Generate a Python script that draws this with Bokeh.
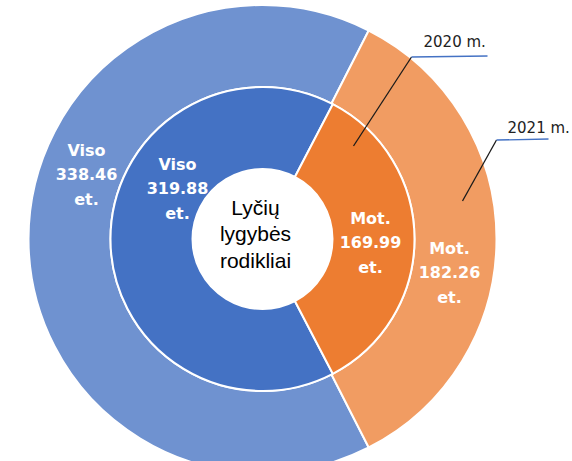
import numpy as np
from bokeh.plotting import figure
from bokeh.models import Range1d, ColumnDataSource
from bokeh.embed import file_html
from bokeh.resources import INLINE
from bokeh.core.properties import value

# ---- data ----
categories = ["Viso", "Mot."]
values_2020 = [319.88, 169.99]   # inner ring
values_2021 = [338.46, 182.26]   # outer ring
years = ["2020 m.", "2021 m."]
unit = "et."
center_title = "Lyčių\nlygybės\nrodikliai"

# ---- styles / layout ----
inner_colors = ["#4472C4", "#ED7D31"]
outer_colors = ["#6F92D0", "#F19C62"]
R_HOLE, R_MID, R_OUT = 70, 152, 234

p = figure(width=572, height=461, x_range=Range1d(-262, 310), y_range=Range1d(-222.5, 238.5),
           output_backend="svg", toolbar_location=None, min_border=0,
           x_axis_type=None, y_axis_type=None)
p.grid.visible = False
p.outline_line_color = None
p.background_fill_color = "white"
p.border_fill_color = "white"


def ring_angles(vals):
    vals = np.asarray(vals, dtype=float)
    frac = vals / vals.sum()
    mot_span = 2 * np.pi * frac[1]
    # women's slice centred on the right-hand side
    start_mot = -mot_span / 2
    end_mot = mot_span / 2
    start_viso = end_mot
    end_viso = end_mot + 2 * np.pi * frac[0]
    return [start_viso, start_mot], [end_viso, end_mot]


for vals, colors, r0, r1 in [(values_2021, outer_colors, R_MID, R_OUT),
                             (values_2020, inner_colors, R_HOLE, R_MID)]:
    s, e = ring_angles(vals)
    src = ColumnDataSource(dict(x=[0, 0], y=[0, 0], start=s, end=e, color=colors))
    p.annular_wedge(x="x", y="y", inner_radius=r0, outer_radius=r1,
                    start_angle="start", end_angle="end", fill_color="color",
                    line_color="white", line_width=2, source=src)

# slice labels
label_offsets_outer = [(-176, 64), (187, -34)]
label_offsets_inner = [(-85, 50), (108, -4)]
lx, ly, lt = [], [], []
for vals, offs in [(values_2021, label_offsets_outer), (values_2020, label_offsets_inner)]:
    for cat, v, (dx, dy) in zip(categories, vals, offs):
        lx.append(dx)
        ly.append(dy)
        lt.append(f"{cat}\n{v:.2f}\n{unit}")
p.text(x=lx, y=ly, text=lt, text_align="center", text_baseline="middle",
       text_font=value("DejaVu Sans"), text_font_style="bold", text_font_size="16px",
       text_color="white", text_line_height=1.28)

# centre title
p.text(x=[-7], y=[5], text=[center_title], text_align="center", text_baseline="middle",
       text_font=value("Liberation Sans"), text_font_size="21px", text_color="black",
       text_line_height=1.15)

# year call-outs
leader_pts = [[(91, 93), (149, 182)], [(200, 38), (234, 99)]]
shelf_end = [225, 286]
label_pos = [(161, 197), (245, 111)]
for (a, b), xe in zip(leader_pts, shelf_end):
    p.line([a[0], b[0]], [a[1], b[1]], line_color="#1a1a1a", line_width=1.3)
    p.line([b[0], xe], [b[1], b[1] + 1], line_color="#4472C4", line_width=1.3)
p.text(x=[q[0] for q in label_pos], y=[q[1] for q in label_pos], text=years,
       text_align="left", text_baseline="middle", text_font=value("DejaVu Sans"),
       text_font_size="15px", text_color="#222222")

open("out.html", "w").write(file_html(p, INLINE))
